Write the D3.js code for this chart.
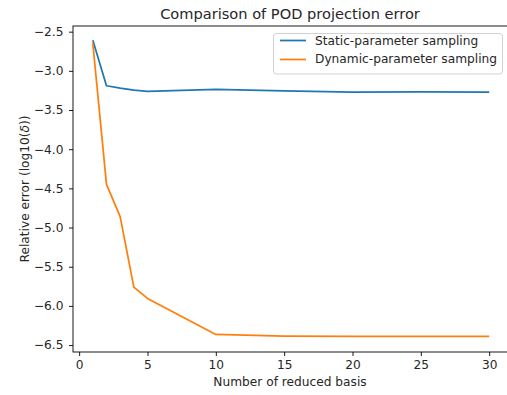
<!DOCTYPE html>
<html>
<head>
<meta charset="utf-8">
<script src="https://cdn.jsdelivr.net/npm/d3@7"></script>
<style>
  body { margin: 0; background: #fff; }
  svg text { font-family: "DejaVu Sans", sans-serif; fill: #262626; }
</style>
</head>
<body>
<svg id="chart" width="507" height="395"></svg>
<script>
// data
var basis = [1, 2, 3, 4, 5, 10, 15, 20, 25, 30];
var staticErr = [-2.61, -3.19, -3.22, -3.245, -3.262, -3.235, -3.255, -3.27, -3.268, -3.27];
var dynamicErr = [-2.648, -4.45, -4.86, -5.76, -5.905, -6.365, -6.386, -6.39, -6.39, -6.39];
var seriesNames = ["Static-parameter sampling", "Dynamic-parameter sampling"];
var seriesColors = ["#1f77b4", "#ff7f0e"];
var xTicks = [0, 5, 10, 15, 20, 25, 30];
var yTicks = [-2.5, -3.0, -3.5, -4.0, -4.5, -5.0, -5.5, -6.0, -6.5];

var svg = d3.select("#chart");

// plot area (the right spine falls just outside the picture)
var pLeft = 73, pRight = 509, pTop = 26, pBottom = 352;

var x = d3.scaleLinear().domain([-0.45, 31.45]).range([pLeft, pRight]);
var y = d3.scaleLinear().domain([-6.5885, -2.4275]).range([pBottom, pTop]);

function fmt(d) {
    return d3.format(".1f")(d).replace("-", "\u2212");
}

// axes
var xAxis = svg.append("g")
    .attr("transform", "translate(0," + pBottom + ")")
    .call(d3.axisBottom(x).tickValues(xTicks).tickSize(4).tickPadding(4));
var yAxis = svg.append("g")
    .attr("transform", "translate(" + pLeft + ",0)")
    .call(d3.axisLeft(y).tickValues(yTicks).tickFormat(fmt).tickSize(4).tickPadding(5.5));

[xAxis, yAxis].forEach(function(g) {
    g.select(".domain").remove();
    g.selectAll(".tick line").attr("stroke", "#000").attr("stroke-width", 0.9);
    g.selectAll(".tick text").attr("font-size", "12.2px").attr("font-family", "DejaVu Sans").style("fill", "#262626");
});

// spines
svg.append("rect")
    .attr("x", pLeft).attr("y", pTop)
    .attr("width", pRight - pLeft).attr("height", pBottom - pTop)
    .attr("fill", "none").attr("stroke", "#000").attr("stroke-width", 0.9);

// lines
var line = d3.line()
    .x(function(d, i) { return x(basis[i]); })
    .y(function(d) { return y(d); });

[staticErr, dynamicErr].forEach(function(s, i) {
    svg.append("path")
        .datum(s)
        .attr("fill", "none")
        .attr("stroke", seriesColors[i])
        .attr("stroke-width", 1.75)
        .attr("stroke-linejoin", "round")
        .attr("d", line);
});

// title and labels
svg.append("text")
    .attr("x", 290).attr("y", 18.5)
    .attr("text-anchor", "middle")
    .attr("font-size", "14.6px")
    .text("Comparison of POD projection error");

svg.append("text")
    .attr("x", 290).attr("y", 386)
    .attr("text-anchor", "middle")
    .attr("font-size", "12.2px")
    .text("Number of reduced basis");

var yl = svg.append("text")
    .attr("transform", "translate(28.5," + ((pTop + pBottom) / 2) + ") rotate(-90)")
    .attr("text-anchor", "middle")
    .attr("font-size", "12.2px");
yl.append("tspan").text("Relative error (log10(");
yl.append("tspan").attr("font-style", "italic").text("\u03b4");
yl.append("tspan").text("))");

// legend
var lg = svg.append("g").attr("transform", "translate(273.5,33.5)");
lg.append("rect")
    .attr("width", 229).attr("height", 40.5)
    .attr("rx", 3)
    .attr("fill", "#fff").attr("fill-opacity", 0.8)
    .attr("stroke", "#ccc").attr("stroke-width", 0.9);
seriesNames.forEach(function(n, i) {
    lg.append("line")
        .attr("x1", 6.5).attr("x2", 32.5)
        .attr("y1", 7 + i * 19).attr("y2", 7 + i * 19)
        .attr("stroke", seriesColors[i]).attr("stroke-width", 1.75);
    lg.append("text")
        .attr("x", 41.5).attr("y", 11 + i * 18.5)
        .attr("font-size", "12.2px")
        .text(n);
});
</script>
</body>
</html>
